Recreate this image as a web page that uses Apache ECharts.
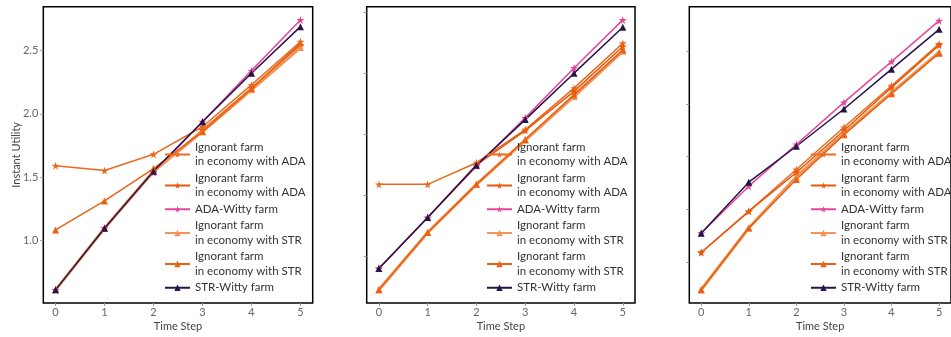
<!DOCTYPE html>
<html>
<head>
<meta charset="utf-8">
<script src="https://cdn.jsdelivr.net/npm/echarts@6/dist/echarts.min.js"></script>
<style>
  html, body { margin: 0; padding: 0; background: #fff; }
  #chart { width: 951px; height: 337px; }
</style>
</head>
<body>
<div id="chart"></div>
<script>
// x axis
const timeSteps = [0, 1, 2, 3, 4, 5]
// y ticks (left panel labelled, others only ticks)
const yTicksLeft = [1.0, 1.5, 2.0, 2.5]
const yTicksOther = [1.0, 1.5, 2.0, 2.5, 3.0]

const seriesNames = [
  'Ignorant farm\nin economy with ADA',
  'Ignorant farm\nin economy with ADA ', // trailing space keeps legend entries apart
  'ADA-Witty farm',
  'Ignorant farm\nin economy with STR',
  'Ignorant farm\nin economy with STR ',
  'STR-Witty farm'
]

// panel 1
const p1IgnAda1 = [1.59, 1.551, 1.68, 1.898, 2.229, 2.571]
const p1IgnAda2 = [0.607, 1.095, 1.54, 1.873, 2.205, 2.545]
const p1AdaWitty = [0.607, 1.095, 1.535, 1.938, 2.342, 2.743]
const p1IgnStr1 = [0.607, 1.095, 1.545, 1.86, 2.19, 2.525]
const p1IgnStr2 = [1.081, 1.311, 1.567, 1.859, 2.2, 2.56]
const p1StrWitty = [0.607, 1.095, 1.546, 1.938, 2.321, 2.69]

// panel 2
const p2IgnAda1 = [1.59, 1.59, 1.767, 2.038, 2.378, 2.745]
const p2IgnAda2 = [0.902, 1.318, 1.75, 2.03, 2.351, 2.718]
const p2AdaWitty = [0.902, 1.318, 1.739, 2.134, 2.542, 2.936]
const p2IgnStr1 = [0.728, 1.196, 1.59, 1.95, 2.31, 2.68]
const p2IgnStr2 = [0.728, 1.196, 1.59, 1.957, 2.324, 2.691]
const p2StrWitty = [0.902, 1.318, 1.747, 2.12, 2.5, 2.876]

// panel 3
const p3IgnAda1 = [1.089, 1.481, 1.879, 2.28, 2.675, 3.073]
const p3IgnAda2 = [1.089, 1.481, 1.85, 2.25, 2.66, 3.06]
const p3AdaWitty = [1.272, 1.72, 2.116, 2.517, 2.905, 3.294]
const p3IgnStr1 = [0.735, 1.322, 1.81, 2.22, 2.61, 2.995]
const p3IgnStr2 = [0.735, 1.322, 1.784, 2.21, 2.599, 2.985]
const p3StrWitty = [1.272, 1.758, 2.1, 2.454, 2.833, 3.212]

const panels = [
  [p1IgnAda1, p1IgnAda2, p1AdaWitty, p1IgnStr1, p1IgnStr2, p1StrWitty],
  [p2IgnAda1, p2IgnAda2, p2AdaWitty, p2IgnStr1, p2IgnStr2, p2StrWitty],
  [p3IgnAda1, p3IgnAda2, p3AdaWitty, p3IgnStr1, p3IgnStr2, p3StrWitty]
]

const star = 'path://M50,0 L61,35 L98,35 L68,57 L79,91 L50,70 L21,91 L32,57 L2,35 L39,35 Z'
const styles = [
  { color: '#ea6a1e', symbol: star, size: 8, width: 1.5 },
  { color: '#e8580e', symbol: star, size: 8, width: 1.5 },
  { color: '#e4479a', symbol: star, size: 8, width: 1.5 },
  { color: '#f2955a', symbol: 'triangle', size: 7, width: 3 },
  { color: '#ea6112', symbol: 'triangle', size: 7, width: 1.5 },
  { color: '#25134a', symbol: 'triangle', size: 7, width: 1.5 }
]

const font = 'Lato, "DejaVu Sans", sans-serif'
const grids = [
  { left: 43.3, top: 6.7, width: 269.4, height: 297.3 },
  { left: 366.7, top: 6.7, width: 268.3, height: 297.3 },
  { left: 689.3, top: 6.7, width: 269, height: 297.3 }
]
const yRanges = [[0.503, 2.848], [0.619, 3.044], [0.609, 3.427]]
const legendLeft = [164, 486, 810]

const chart = echarts.init(document.getElementById('chart'))

const series = []
panels.forEach((panel, p) => {
  panel.forEach((vals, i) => {
    const s = styles[i]
    series.push({
      name: seriesNames[i],
      type: 'line',
      xAxisIndex: p,
      yAxisIndex: p,
      data: timeSteps.map((t, k) => [t, vals[k]]),
      symbol: s.symbol,
      symbolSize: s.size,
      showAllSymbol: true,
      lineStyle: { color: s.color, width: s.width },
      itemStyle: { color: s.color },
      emphasis: { disabled: true }
    })
  })
})

chart.setOption({
  animation: false,
  textStyle: { fontFamily: font },
  grid: grids.map(g => Object.assign({
    show: true,
    borderColor: '#000',
    borderWidth: 1.5,
    backgroundColor: 'transparent'
  }, g)),
  xAxis: grids.map((g, p) => ({
    type: 'value',
    gridIndex: p,
    min: -0.25,
    max: 5.25,
    name: 'Time Step',
    nameLocation: 'middle',
    nameGap: 18,
    nameMoveOverlap: false,
    nameTextStyle: { fontSize: 11, color: '#444', fontFamily: font },
    axisLine: { show: false, onZero: false },
    axisTick: { show: true, length: 3, lineStyle: { color: '#999' }, customValues: timeSteps },
    axisLabel: { fontSize: 11, color: '#666', margin: 4, customValues: timeSteps, fontFamily: font },
    splitLine: { show: false }
  })),
  yAxis: grids.map((g, p) => ({
    type: 'value',
    gridIndex: p,
    min: yRanges[p][0],
    max: yRanges[p][1],
    name: p === 0 ? 'Instant Utility' : '',
    nameLocation: 'middle',
    nameGap: 21,
    nameMoveOverlap: false,
    nameTextStyle: { fontSize: 11, color: '#444', fontFamily: font },
    axisLine: { show: false, onZero: false },
    axisTick: { show: true, length: 3, lineStyle: { color: '#999' }, customValues: p === 0 ? yTicksLeft : yTicksOther },
    axisLabel: {
      show: p === 0,
      fontSize: 11,
      color: '#666',
      margin: 5,
      fontFamily: font,
      customValues: yTicksLeft,
      formatter: v => v.toFixed(1)
    },
    splitLine: { show: false }
  })),
  legend: legendLeft.map(left => ({
    data: seriesNames,
    orient: 'vertical',
    left: left,
    top: 140,
    padding: 0,
    itemWidth: 25,
    itemHeight: 8,
    itemGap: 2,
    selectedMode: false,
    textStyle: { fontSize: 11.5, lineHeight: 14.5, color: '#333', fontFamily: font }
  })),
  series: series
})
</script>
</body>
</html>
